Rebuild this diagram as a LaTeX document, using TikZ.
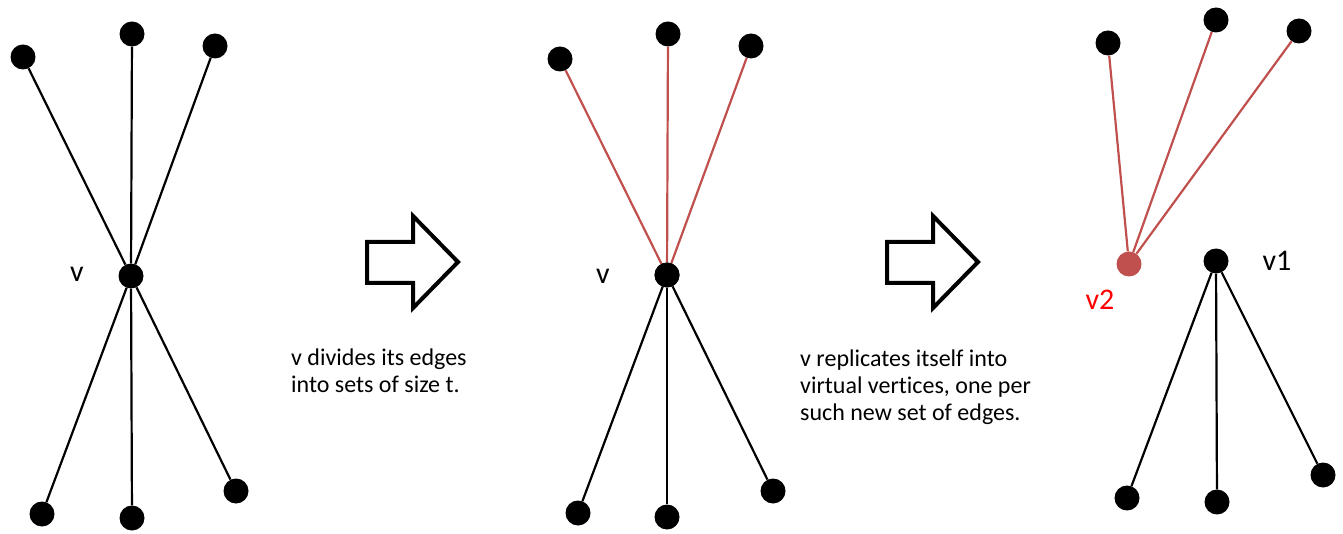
\documentclass[tikz,border=0pt]{standalone}
\usepackage{fontspec}
\setmainfont{Carlito}[Ligatures=NoCommon]
\definecolor{edgered}{HTML}{C0504D}
\definecolor{labelred}{HTML}{FF0000}
\tikzset{
  dot/.style={circle,fill=black,inner sep=0pt,minimum size=25pt},
  reddot/.style={circle,fill=edgered,inner sep=0pt,minimum size=25pt},
  edge/.style={line width=2.2pt},
  rededge/.style={line width=2.2pt,edgered},
  vlabel/.style={font=\fontsize{30}{32}\selectfont},
  caption/.style={font=\fontsize{24}{27}\selectfont,align=left,anchor=base west,inner sep=0pt},
  bigarrow/.style={line width=4pt,line join=miter}
}
\begin{document}
\begin{tikzpicture}[x=1pt,y=-1pt]
\useasboundingbox (0,0) rectangle (1343,534);

% first graph
\node[dot] (v) at (131,276) {};
\node[dot] (a1) at (23,57) {};
\node[dot] (a2) at (132,34) {};
\node[dot] (a3) at (215,46) {};
\node[dot] (b1) at (42,514) {};
\node[dot] (b2) at (132,518) {};
\node[dot] (b3) at (236,491) {};
\foreach \n in {a1,a2,a3,b1,b2,b3}
    \draw[edge] (v) -- (\n);
\node[vlabel] (vl) at (77,274) {v};

% first arrow
\draw[bigarrow] (367,242)--(413,242)--(413,216)--(458,262)--(413,308)--(413,283)--(367,283)--cycle;
\node[caption] (t1) at (291,392) {v divides its edges\\into sets of size t.};

% second graph
\node[dot] (w) at (667,275) {};
\node[dot] (c1) at (560,59) {};
\node[dot] (c2) at (668,34) {};
\node[dot] (c3) at (751,46) {};
\node[dot] (d1) at (578,513) {};
\node[dot] (d2) at (667,517) {};
\node[dot] (d3) at (773,491) {};
\foreach \n in {c1,c2,c3}
    \draw[rededge] (w) -- (\n);
\foreach \n in {d1,d2,d3}
    \draw[edge] (w) -- (\n);
\node[dot] at (w) {};
\node[vlabel] (wl) at (603,276) {v};

% second arrow
\draw[bigarrow] (887,242)--(933,242)--(933,216)--(978,262)--(933,308)--(933,283)--(887,283)--cycle;
\node[caption] (t2) at (800,420) {v replicates itself into\\virtual vertices, one per\\such new set of edges.};

% third graph
\node[reddot] (v2) at (1129,264) {};
\node[dot] (e1) at (1108,43) {};
\node[dot] (e2) at (1216,20) {};
\node[dot] (e3) at (1299,31) {};
\foreach \n in {e1,e2,e3}
    \draw[rededge] (v2) -- (\n);
\node[dot] (v1) at (1216,261) {};
\node[dot] (f1) at (1127,498) {};
\node[dot] (f2) at (1217,502) {};
\node[dot] (f3) at (1323,475) {};
\foreach \n in {f1,f2,f3}
    \draw[edge] (v1) -- (\n);
\node[vlabel] (v1l) at (1277,261) {v1};
\node[vlabel,labelred] (v2l) at (1100,300) {v2};

\end{tikzpicture}
\end{document}
